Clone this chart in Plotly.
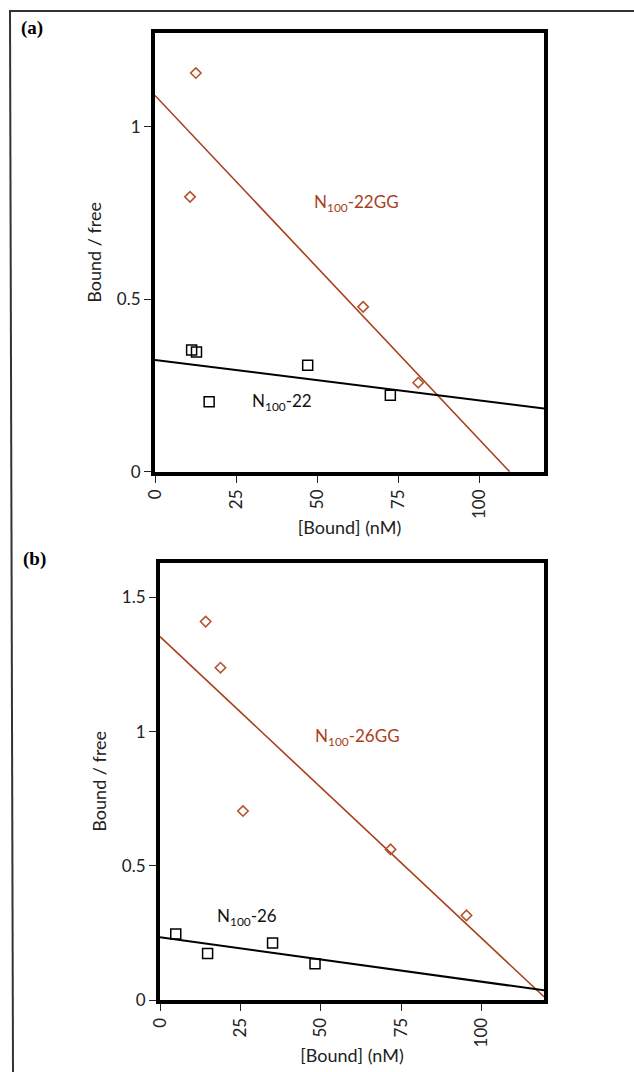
import plotly.graph_objects as go

# ---------------- data ----------------
# Panel (a)
a_gg_x = [12.6, 10.8, 64.2, 81.2]
a_gg_y = [1.156, 0.797, 0.478, 0.258]
a_wt_x = [11.3, 12.8, 16.7, 47.1, 72.6]
a_wt_y = [0.353, 0.347, 0.203, 0.309, 0.222]
a_gg_fit_x = [0, 109.4]
a_gg_fit_y = [1.091, 0.0]
a_wt_fit_x = [0, 120]
a_wt_fit_y = [0.324, 0.183]

# Panel (b)
b_gg_x = [14.2, 18.8, 25.8, 71.7, 95.3]
b_gg_y = [1.410, 1.238, 0.704, 0.561, 0.315]
b_wt_x = [4.9, 14.8, 35.0, 48.2]
b_wt_y = [0.246, 0.173, 0.212, 0.135]
b_gg_fit_x = [0, 119.4]
b_gg_fit_y = [1.354, 0.012]
b_wt_fit_x = [0, 119.4]
b_wt_fit_y = [0.234, 0.036]

x_ticks = [0, 25, 50, 75, 100]
a_y_ticks = [0, 0.5, 1]
a_y_ticklabels = ["0", "0.5", "1"]
b_y_ticks = [0, 0.5, 1, 1.5]
b_y_ticklabels = ["0", "0.5", "1", "1.5"]

label_a_gg = "N<sub>100</sub>-22GG"
label_a_wt = "N<sub>100</sub>-22"
label_b_gg = "N<sub>100</sub>-26GG"
label_b_wt = "N<sub>100</sub>-26"

# ---------------- style ----------------
W, H = 634, 1072
RED = "#a8401c"
RED_MK = "#b5532c"
FONT = "Lato"

def px(x):
    return x / W

def py(y):
    return 1 - y / H

fig = go.Figure()

def add_panel(xa, ya, gg_x, gg_y, wt_x, wt_y, ggfx, ggfy, wtfx, wtfy):
    fig.add_trace(go.Scatter(x=ggfx, y=ggfy, mode="lines",
                             line=dict(color=RED, width=1.6),
                             xaxis=xa, yaxis=ya, showlegend=False))
    fig.add_trace(go.Scatter(x=wtfx, y=wtfy, mode="lines",
                             line=dict(color="black", width=2),
                             xaxis=xa, yaxis=ya, showlegend=False))
    fig.add_trace(go.Scatter(x=gg_x, y=gg_y, mode="markers",
                             marker=dict(symbol="diamond-open", size=8,
                                         color=RED_MK, line=dict(width=1.6, color=RED_MK)),
                             xaxis=xa, yaxis=ya, showlegend=False))
    fig.add_trace(go.Scatter(x=wt_x, y=wt_y, mode="markers",
                             marker=dict(symbol="square-open", size=10,
                                         color="black", line=dict(width=1.5, color="black")),
                             xaxis=xa, yaxis=ya, showlegend=False))

add_panel("x", "y", a_gg_x, a_gg_y, a_wt_x, a_wt_y,
          a_gg_fit_x, a_gg_fit_y, a_wt_fit_x, a_wt_fit_y)
add_panel("x2", "y2", b_gg_x, b_gg_y, b_wt_x, b_wt_y,
          b_gg_fit_x, b_gg_fit_y, b_wt_fit_x, b_wt_fit_y)

tickfont = dict(family=FONT, size=17, color="#222")
titlefont = dict(family=FONT, size=18, color="#222")

common_x = dict(showline=True, linewidth=4, linecolor="black", mirror=True,
                showgrid=False, zeroline=False, ticks="outside", ticklen=7,
                tickwidth=1.3, tickcolor="#222", tickangle=-90, automargin=False,
                tickvals=x_ticks, ticktext=[str(v) for v in x_ticks],
                tickfont=tickfont, fixedrange=True)
common_y = dict(showline=True, linewidth=4, linecolor="black", mirror=True,
                showgrid=False, zeroline=False, ticks="outside", ticklen=7,
                tickwidth=1.3, tickcolor="#222", tickfont=tickfont, fixedrange=True,
                automargin=False)

fig.update_layout(
    template="none",
    width=W, height=H, autosize=False,
    margin=dict(l=0, r=0, t=0, b=0, pad=0),
    paper_bgcolor="white", plot_bgcolor="white",
    xaxis=dict(common_x, domain=[px(155), px(544)], range=[0, 120], anchor="y",
               title=dict(text="[Bound] (nM)", font=titlefont, standoff=4)),
    yaxis=dict(common_y, domain=[py(471.7), py(33)], range=[0, 1.272], anchor="x",
               tickvals=a_y_ticks, ticktext=a_y_ticklabels,
               title=dict(text="Bound / free", font=titlefont, standoff=12)),
    xaxis2=dict(common_x, domain=[px(160), px(544)], range=[0, 119.4], anchor="y2",
                title=dict(text="[Bound] (nM)", font=titlefont, standoff=4)),
    yaxis2=dict(common_y, domain=[py(1000), py(562.5)], range=[0, 1.630], anchor="x2",
                tickvals=b_y_ticks, ticktext=b_y_ticklabels,
                title=dict(text="Bound / free", font=titlefont, standoff=12)),
)

ann = []
labfont_red = dict(family=FONT, size=17, color=RED)
labfont_blk = dict(family=FONT, size=17, color="#111")
ann.append(dict(x=48.3, y=0.778, xref="x", yref="y", text=label_a_gg, showarrow=False,
                xanchor="left", yanchor="middle", font=labfont_red))
ann.append(dict(x=29.3, y=0.203, xref="x", yref="y", text=label_a_wt, showarrow=False,
                xanchor="left", yanchor="middle", font=labfont_blk))
ann.append(dict(x=47.6, y=0.98, xref="x2", yref="y2", text=label_b_gg, showarrow=False,
                xanchor="left", yanchor="middle", font=labfont_red))
ann.append(dict(x=17.1, y=0.31, xref="x2", yref="y2", text=label_b_wt, showarrow=False,
                xanchor="left", yanchor="middle", font=labfont_blk))
ann.append(dict(x=px(19), y=py(28), xref="paper", yref="paper", text="<b>(a)</b>",
                showarrow=False, xanchor="left", yanchor="middle",
                font=dict(family="Liberation Serif", size=19, color="black")))
ann.append(dict(x=px(21), y=py(559), xref="paper", yref="paper", text="<b>(b)</b>",
                showarrow=False, xanchor="left", yanchor="middle",
                font=dict(family="Liberation Serif", size=19, color="black")))
fig.update_layout(annotations=ann)

# outer frame of the figure page
fig.update_layout(shapes=[
    dict(type="line", xref="paper", yref="paper", x0=px(9), y0=py(11), x1=1, y1=py(11),
         line=dict(color="#333", width=2)),
    dict(type="line", xref="paper", yref="paper", x0=px(10), y0=py(11), x1=px(13), y1=0,
         line=dict(color="#333", width=2)),
])

fig.write_html(
    "out.html",
    config={"displayModeBar": False},
    post_script="document.body.style.margin='0';document.body.style.overflow='hidden';",
)
